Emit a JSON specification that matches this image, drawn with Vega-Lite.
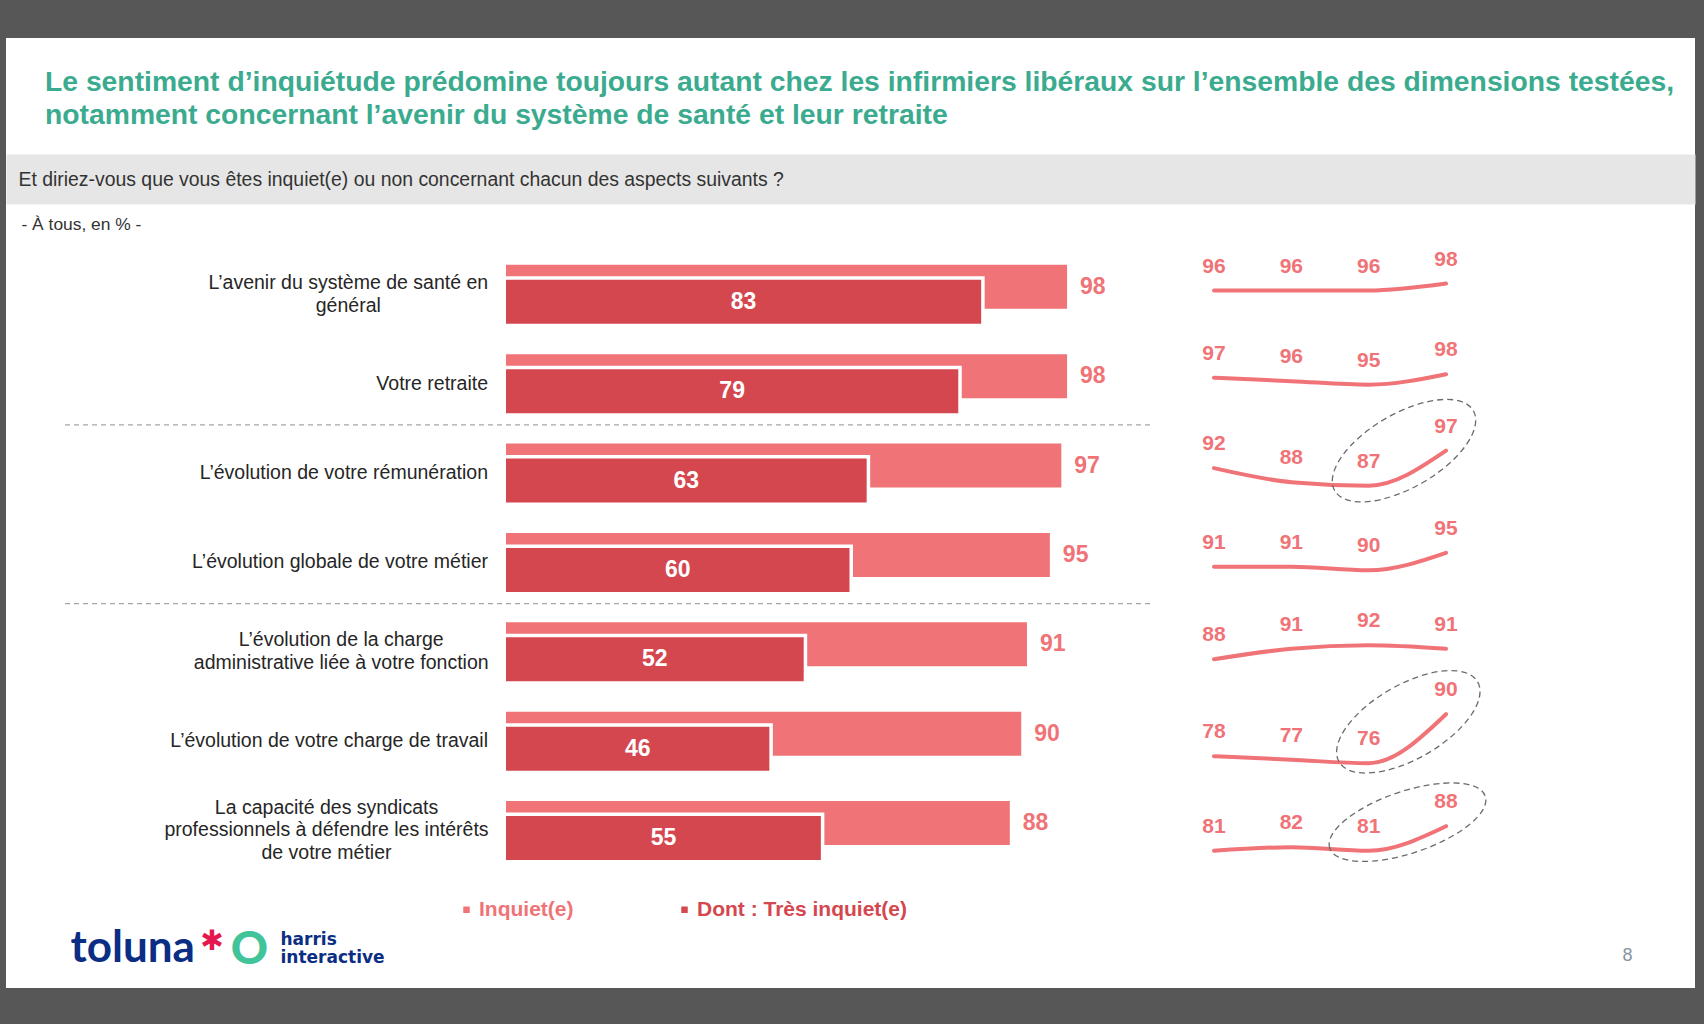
{
  "$schema": "https://vega.github.io/schema/vega-lite/v6.json",
  "width": 1704,
  "height": 1024,
  "autosize": {"type": "fit", "contains": "padding"},
  "padding": {"top": 38, "bottom": 36, "left": 6, "right": 9},
  "background": "#575757",
  "title": {
    "text": ["Le sentiment d’inquiétude prédomine toujours autant chez les infirmiers libéraux sur l’ensemble des dimensions testées,", "notamment concernant l’avenir du système de santé et leur retraite"],
    "anchor": "start",
    "frame": "group",
    "dx": 39,
    "offset": -92,
    "font": "Liberation Sans",
    "fontSize": 28.3,
    "fontWeight": "bold",
    "color": "#3bab90",
    "lineHeight": 33
  },
  "datasets": {
    "items": [
      {"item": "L’avenir du système de santé en général", "label": "L’avenir du système de santé en\ngénéral", "inquiet": 98, "tres_inquiet": 83},
      {"item": "Votre retraite", "label": "Votre retraite", "inquiet": 98, "tres_inquiet": 79},
      {"item": "L’évolution de votre rémunération", "label": "L’évolution de votre rémunération", "inquiet": 97, "tres_inquiet": 63},
      {"item": "L’évolution globale de votre métier", "label": "L’évolution globale de votre métier", "inquiet": 95, "tres_inquiet": 60},
      {"item": "L’évolution de la charge administrative liée à votre fonction", "label": "L’évolution de la charge\nadministrative liée à votre fonction", "inquiet": 91, "tres_inquiet": 52},
      {"item": "L’évolution de votre charge de travail", "label": "L’évolution de votre charge de travail", "inquiet": 90, "tres_inquiet": 46},
      {"item": "La capacité des syndicats professionnels à défendre les intérêts de votre métier", "label": "La capacité des syndicats\nprofessionnels à défendre les intérêts\nde votre métier", "inquiet": 88, "tres_inquiet": 55}
    ],
    "tendance": [
      {"item": "L’avenir du système de santé en général", "vague": 1, "valeur": 96},
      {"item": "L’avenir du système de santé en général", "vague": 2, "valeur": 96},
      {"item": "L’avenir du système de santé en général", "vague": 3, "valeur": 96},
      {"item": "L’avenir du système de santé en général", "vague": 4, "valeur": 98},
      {"item": "Votre retraite", "vague": 1, "valeur": 97},
      {"item": "Votre retraite", "vague": 2, "valeur": 96},
      {"item": "Votre retraite", "vague": 3, "valeur": 95},
      {"item": "Votre retraite", "vague": 4, "valeur": 98},
      {"item": "L’évolution de votre rémunération", "vague": 1, "valeur": 92},
      {"item": "L’évolution de votre rémunération", "vague": 2, "valeur": 88},
      {"item": "L’évolution de votre rémunération", "vague": 3, "valeur": 87},
      {"item": "L’évolution de votre rémunération", "vague": 4, "valeur": 97},
      {"item": "L’évolution globale de votre métier", "vague": 1, "valeur": 91},
      {"item": "L’évolution globale de votre métier", "vague": 2, "valeur": 91},
      {"item": "L’évolution globale de votre métier", "vague": 3, "valeur": 90},
      {"item": "L’évolution globale de votre métier", "vague": 4, "valeur": 95},
      {"item": "L’évolution de la charge administrative liée à votre fonction", "vague": 1, "valeur": 88},
      {"item": "L’évolution de la charge administrative liée à votre fonction", "vague": 2, "valeur": 91},
      {"item": "L’évolution de la charge administrative liée à votre fonction", "vague": 3, "valeur": 92},
      {"item": "L’évolution de la charge administrative liée à votre fonction", "vague": 4, "valeur": 91},
      {"item": "L’évolution de votre charge de travail", "vague": 1, "valeur": 78},
      {"item": "L’évolution de votre charge de travail", "vague": 2, "valeur": 77},
      {"item": "L’évolution de votre charge de travail", "vague": 3, "valeur": 76},
      {"item": "L’évolution de votre charge de travail", "vague": 4, "valeur": 90},
      {"item": "La capacité des syndicats professionnels à défendre les intérêts de votre métier", "vague": 1, "valeur": 81},
      {"item": "La capacité des syndicats professionnels à défendre les intérêts de votre métier", "vague": 2, "valeur": 82},
      {"item": "La capacité des syndicats professionnels à défendre les intérêts de votre métier", "vague": 3, "valeur": 81},
      {"item": "La capacité des syndicats professionnels à défendre les intérêts de votre métier", "vague": 4, "valeur": 88}
    ],
    "separateurs": [
      {"apres": "Votre retraite"},
      {"apres": "L’évolution globale de votre métier"}
    ]
  },
  "layer": [
    {
      "data": {"name": "items"},
      "mark": {"type": "bar", "height": 44, "yOffset": -7.5},
      "encoding": {
        "x": {"field": "inquiet", "type": "quantitative",
          "scale": {"domain": [-87.3362, 207.6856], "range": [0, 1689], "nice": false, "zero": false},
          "axis": {"orient": "top", "offset": -141, "domain": true, "domainColor": "#e6e6e6", "domainWidth": 50, "domainCap": "butt", "ticks": false, "labels": false, "grid": false,
            "title": "Et diriez-vous que vous êtes inquiet(e) ou non concernant chacun des aspects suivants ?",
            "titleX": 12, "titleY": 0, "titleAlign": "left", "titleBaseline": "middle", "titleAngle": 0, "titleFont": "Liberation Sans", "titleFontSize": 19.4, "titleFontWeight": "normal", "titleColor": "#333333", "titlePadding": 0}},
        "y": {"field": "item", "type": "nominal", "sort": null,
          "scale": {"type": "band", "domain": ["L’avenir du système de santé en général", "Votre retraite", "L’évolution de votre rémunération", "L’évolution globale de votre métier", "L’évolution de la charge administrative liée à votre fonction", "L’évolution de votre charge de travail", "La capacité des syndicats professionnels à défendre les intérêts de votre métier"], "range": [211.67, 837.18], "paddingInner": 0, "paddingOuter": 0},
          "axis": null},
        "color": {"datum": "Inquiet(e)", "type": "nominal",
          "scale": {"domain": ["Inquiet(e)", "Dont : Très inquiet(e)"], "range": ["#f07377", "#d4474f"]},
          "legend": {"title": null, "orient": "none", "legendX": 450, "legendY": 861, "direction": "horizontal", "symbolType": "square", "symbolSize": 42, "symbolStrokeWidth": 0, "labelFont": "Liberation Sans", "labelFontSize": 21, "labelFontWeight": "bold", "labelOffset": 2, "labelLimit": 500, "columnPadding": 100, "padding": 0,
            "encode": {"labels": {"update": {"fill": {"scale": "color", "field": "value"}}}}}}
      }
    },
    {
      "data": {"name": "items"},
      "mark": {"type": "bar", "height": 44, "yOffset": 7.5, "color": "white", "stroke": "white", "strokeWidth": 7},
      "encoding": {
        "x": {"field": "tres_inquiet", "type": "quantitative",
          "scale": {"domain": [-87.3362, 207.6856], "range": [0, 1689], "nice": false, "zero": false},
          "axis": null},
        "y": {"field": "item", "type": "nominal", "sort": null,
          "scale": {"type": "band", "domain": ["L’avenir du système de santé en général", "Votre retraite", "L’évolution de votre rémunération", "L’évolution globale de votre métier", "L’évolution de la charge administrative liée à votre fonction", "L’évolution de votre charge de travail", "La capacité des syndicats professionnels à défendre les intérêts de votre métier"], "range": [211.67, 837.18], "paddingInner": 0, "paddingOuter": 0},
          "axis": null}
      }
    },
    {
      "data": {"name": "items"},
      "mark": {"type": "bar", "height": 44, "yOffset": 7.5},
      "encoding": {
        "x": {"field": "tres_inquiet", "type": "quantitative",
          "scale": {"domain": [-87.3362, 207.6856], "range": [0, 1689], "nice": false, "zero": false},
          "axis": {"orient": "bottom", "domain": false, "ticks": false, "labels": false, "grid": false, "title": "toluna", "titleX": 64, "titleY": -27, "titleAlign": "left", "titleBaseline": "alphabetic", "titleAngle": 0, "titleFont": "Lato", "titleFontSize": 44, "titleFontWeight": "bold", "titleColor": "#0b2d83", "titlePadding": 0}},
        "y": {"field": "item", "type": "nominal", "sort": null,
          "scale": {"type": "band", "domain": ["L’avenir du système de santé en général", "Votre retraite", "L’évolution de votre rémunération", "L’évolution globale de votre métier", "L’évolution de la charge administrative liée à votre fonction", "L’évolution de votre charge de travail", "La capacité des syndicats professionnels à défendre les intérêts de votre métier"], "range": [211.67, 837.18], "paddingInner": 0, "paddingOuter": 0},
          "axis": null},
        "color": {"datum": "Dont : Très inquiet(e)", "type": "nominal",
          "scale": {"domain": ["Inquiet(e)", "Dont : Très inquiet(e)"], "range": ["#f07377", "#d4474f"]},
          "legend": {"title": null, "orient": "none", "legendX": 450, "legendY": 861, "direction": "horizontal", "symbolType": "square", "symbolSize": 42, "symbolStrokeWidth": 0, "labelFont": "Liberation Sans", "labelFontSize": 21, "labelFontWeight": "bold", "labelOffset": 2, "labelLimit": 500, "columnPadding": 100, "padding": 0,
            "encode": {"labels": {"update": {"fill": {"scale": "color", "field": "value"}}}}}}
      }
    },
    {
      "data": {"name": "items"},
      "mark": {"type": "text", "yOffset": 7.5, "font": "Liberation Sans", "fontSize": 23, "fontWeight": "bold", "color": "white", "align": "center", "baseline": "middle"},
      "encoding": {
        "x": {"field": "tres_inquiet", "type": "quantitative",
          "scale": {"domain": [-174.6724, 415.3712], "range": [0, 1689], "nice": false, "zero": false},
          "axis": {"orient": "bottom", "domain": false, "ticks": false, "labels": false, "grid": false, "title": "✱", "titleX": 205.5, "titleY": -46.5, "titleAlign": "center", "titleBaseline": "middle", "titleAngle": 0, "titleFont": "DejaVu Sans", "titleFontSize": 28, "titleFontWeight": "normal", "titleColor": "#e5174f", "titlePadding": 0}},
        "y": {"field": "item", "type": "nominal", "sort": null,
          "scale": {"type": "band", "domain": ["L’avenir du système de santé en général", "Votre retraite", "L’évolution de votre rémunération", "L’évolution globale de votre métier", "L’évolution de la charge administrative liée à votre fonction", "L’évolution de votre charge de travail", "La capacité des syndicats professionnels à défendre les intérêts de votre métier"], "range": [211.67, 837.18], "paddingInner": 0, "paddingOuter": 0},
          "axis": null},
        "text": {"field": "tres_inquiet", "type": "quantitative"}
      }
    },
    {
      "data": {"name": "items"},
      "mark": {"type": "text", "yOffset": -7.5, "dx": 13, "font": "Liberation Sans", "fontSize": 23, "fontWeight": "bold", "color": "#f07377", "align": "left", "baseline": "middle"},
      "encoding": {
        "x": {"field": "inquiet", "type": "quantitative",
          "scale": {"domain": [-87.3362, 207.6856], "range": [0, 1689], "nice": false, "zero": false},
          "axis": {"orient": "bottom", "domain": false, "ticks": false, "labels": false, "grid": false, "title": "O", "titleX": 243, "titleY": -38.8, "titleAlign": "center", "titleBaseline": "middle", "titleAngle": 0, "titleFont": "Lato", "titleFontSize": 46, "titleFontWeight": 900, "titleColor": "#41c49a", "titlePadding": 0}},
        "y": {"field": "item", "type": "nominal", "sort": null,
          "scale": {"type": "band", "domain": ["L’avenir du système de santé en général", "Votre retraite", "L’évolution de votre rémunération", "L’évolution globale de votre métier", "L’évolution de la charge administrative liée à votre fonction", "L’évolution de votre charge de travail", "La capacité des syndicats professionnels à défendre les intérêts de votre métier"], "range": [211.67, 837.18], "paddingInner": 0, "paddingOuter": 0},
          "axis": null},
        "text": {"field": "inquiet", "type": "quantitative"}
      }
    },
    {
      "data": {"name": "items"},
      "transform": [{"filter": {"field": "item", "oneOf": ["Votre retraite", "L’évolution de votre rémunération", "L’évolution globale de votre métier", "L’évolution de votre charge de travail"]}}],
      "mark": {"type": "text", "dx": -18, "font": "Liberation Sans", "fontSize": 19.5, "color": "#262626", "align": "right", "baseline": "middle"},
      "encoding": {
        "x": {"datum": 0, "type": "quantitative",
          "scale": {"domain": [-87.3362, 207.6856], "range": [0, 1689], "nice": false, "zero": false},
          "axis": null},
        "y": {"field": "item", "type": "nominal", "sort": null,
          "scale": {"type": "band", "domain": ["L’avenir du système de santé en général", "Votre retraite", "L’évolution de votre rémunération", "L’évolution globale de votre métier", "L’évolution de la charge administrative liée à votre fonction", "L’évolution de votre charge de travail", "La capacité des syndicats professionnels à défendre les intérêts de votre métier"], "range": [211.67, 837.18], "paddingInner": 0, "paddingOuter": 0},
          "axis": null},
        "text": {"field": "label", "type": "nominal"}
      }
    },
    {
      "data": {"name": "items"},
      "transform": [{"filter": {"field": "item", "equal": "L’avenir du système de santé en général"}}],
      "mark": {"type": "text", "dx": -157.7, "dy": -11.4, "font": "Liberation Sans", "fontSize": 19.5, "color": "#262626", "align": "center", "baseline": "middle", "lineBreak": "\n", "lineHeight": 22.8},
      "encoding": {
        "x": {"datum": 0, "type": "quantitative",
          "scale": {"domain": [-87.3362, 207.6856], "range": [0, 1689], "nice": false, "zero": false},
          "axis": null},
        "y": {"field": "item", "type": "nominal", "sort": null,
          "scale": {"type": "band", "domain": ["L’avenir du système de santé en général", "Votre retraite", "L’évolution de votre rémunération", "L’évolution globale de votre métier", "L’évolution de la charge administrative liée à votre fonction", "L’évolution de votre charge de travail", "La capacité des syndicats professionnels à défendre les intérêts de votre métier"], "range": [211.67, 837.18], "paddingInner": 0, "paddingOuter": 0},
          "axis": null},
        "text": {"field": "label", "type": "nominal"}
      }
    },
    {
      "data": {"name": "items"},
      "transform": [{"filter": {"field": "item", "equal": "L’évolution de la charge administrative liée à votre fonction"}}],
      "mark": {"type": "text", "dx": -164.8, "dy": -11.4, "font": "Liberation Sans", "fontSize": 19.5, "color": "#262626", "align": "center", "baseline": "middle", "lineBreak": "\n", "lineHeight": 22.8},
      "encoding": {
        "x": {"datum": 0, "type": "quantitative",
          "scale": {"domain": [-87.3362, 207.6856], "range": [0, 1689], "nice": false, "zero": false},
          "axis": null},
        "y": {"field": "item", "type": "nominal", "sort": null,
          "scale": {"type": "band", "domain": ["L’avenir du système de santé en général", "Votre retraite", "L’évolution de votre rémunération", "L’évolution globale de votre métier", "L’évolution de la charge administrative liée à votre fonction", "L’évolution de votre charge de travail", "La capacité des syndicats professionnels à défendre les intérêts de votre métier"], "range": [211.67, 837.18], "paddingInner": 0, "paddingOuter": 0},
          "axis": null},
        "text": {"field": "label", "type": "nominal"}
      }
    },
    {
      "data": {"name": "items"},
      "transform": [{"filter": {"field": "item", "equal": "La capacité des syndicats professionnels à défendre les intérêts de votre métier"}}],
      "mark": {"type": "text", "dx": -179.5, "dy": -22.8, "font": "Liberation Sans", "fontSize": 19.5, "color": "#262626", "align": "center", "baseline": "middle", "lineBreak": "\n", "lineHeight": 22.8},
      "encoding": {
        "x": {"datum": 0, "type": "quantitative",
          "scale": {"domain": [-87.3362, 207.6856], "range": [0, 1689], "nice": false, "zero": false},
          "axis": null},
        "y": {"field": "item", "type": "nominal", "sort": null,
          "scale": {"type": "band", "domain": ["L’avenir du système de santé en général", "Votre retraite", "L’évolution de votre rémunération", "L’évolution globale de votre métier", "L’évolution de la charge administrative liée à votre fonction", "L’évolution de votre charge de travail", "La capacité des syndicats professionnels à défendre les intérêts de votre métier"], "range": [211.67, 837.18], "paddingInner": 0, "paddingOuter": 0},
          "axis": null},
        "text": {"field": "label", "type": "nominal"}
      }
    },
    {
      "data": {"name": "separateurs"},
      "mark": {"type": "rule", "yOffset": -3.5, "color": "#a6a6a6", "strokeWidth": 1.3, "strokeDash": [5, 4]},
      "encoding": {
        "x": {"datum": -77.03, "type": "quantitative",
          "scale": {"domain": [-87.3362, 207.6856], "range": [0, 1689], "nice": false, "zero": false},
          "axis": {"orient": "top", "domain": false, "ticks": false, "labels": false, "grid": false, "title": "- À tous, en % -", "titleX": 15, "titleY": 186, "titleAlign": "left", "titleBaseline": "middle", "titleAngle": 0, "titleFont": "Liberation Sans", "titleFontSize": 17.4, "titleFontWeight": "normal", "titleColor": "#333333", "titlePadding": 0}},
        "x2": {"datum": 112.84},
        "y": {"field": "apres", "type": "nominal", "sort": null, "bandPosition": 1,
          "scale": {"type": "band", "domain": ["L’avenir du système de santé en général", "Votre retraite", "L’évolution de votre rémunération", "L’évolution globale de votre métier", "L’évolution de la charge administrative liée à votre fonction", "L’évolution de votre charge de travail", "La capacité des syndicats professionnels à défendre les intérêts de votre métier"], "range": [211.67, 837.18], "paddingInner": 0, "paddingOuter": 0},
          "axis": null}
      }
    },
    {
      "data": {"name": "tendance"},
      "transform": [{"filter": {"field": "item", "equal": "L’avenir du système de santé en général"}}],
      "encoding": {
        "x": {"field": "vague", "type": "quantitative", "scale": {"domain": [1, 4], "range": [1208, 1440], "nice": false, "zero": false},
          "axis": {"orient": "bottom", "domain": false, "ticks": false, "labels": false, "grid": false, "title": ["harris", "interactive"], "titleX": 274, "titleY": -56.4, "titleAlign": "left", "titleBaseline": "top", "titleAngle": 0, "titleFont": "DejaVu Sans", "titleFontSize": 17, "titleFontWeight": "bold", "titleColor": "#0b2d83", "titleLineHeight": 18, "titlePadding": 0}},
        "y": {"field": "valeur", "type": "quantitative", "scale": {"domain": [-103.28, 168.15], "range": [950, 0], "nice": false, "zero": false}, "axis": null}
      },
      "layer": [
        {"mark": {"type": "line", "interpolate": "monotone", "strokeWidth": 4, "color": "#f07377", "strokeCap": "round"}},
        {"mark": {"type": "text", "dy": -24, "font": "Liberation Sans", "fontSize": 21, "fontWeight": "bold", "color": "#f07377", "align": "center", "baseline": "middle"}, "encoding": {"text": {"field": "valeur", "type": "quantitative"}}}
      ]
    },
    {
      "data": {"name": "tendance"},
      "transform": [{"filter": {"field": "item", "equal": "Votre retraite"}}],
      "encoding": {
        "x": {"field": "vague", "type": "quantitative", "scale": {"domain": [1, 4], "range": [1208, 1440], "nice": false, "zero": false},
          "axis": {"orient": "bottom", "domain": false, "ticks": false, "labels": false, "grid": false, "title": "8", "titleX": 1621, "titleY": -33, "titleAlign": "center", "titleBaseline": "middle", "titleAngle": 0, "titleFont": "Liberation Sans", "titleFontSize": 18, "titleFontWeight": "normal", "titleColor": "#8593a3", "titlePadding": 0}},
        "y": {"field": "valeur", "type": "quantitative", "scale": {"domain": [-77.38, 194.05], "range": [950, 0], "nice": false, "zero": false}, "axis": null}
      },
      "layer": [
        {"mark": {"type": "line", "interpolate": "monotone", "strokeWidth": 4, "color": "#f07377", "strokeCap": "round"}},
        {"mark": {"type": "text", "dy": -24, "font": "Liberation Sans", "fontSize": 21, "fontWeight": "bold", "color": "#f07377", "align": "center", "baseline": "middle"}, "encoding": {"text": {"field": "valeur", "type": "quantitative"}}}
      ]
    },
    {
      "data": {"name": "tendance"},
      "transform": [{"filter": {"field": "item", "equal": "L’évolution de votre rémunération"}}],
      "encoding": {
        "x": {"field": "vague", "type": "quantitative", "scale": {"domain": [1, 4], "range": [1208, 1440], "nice": false, "zero": false}, "axis": null},
        "y": {"field": "valeur", "type": "quantitative", "scale": {"domain": [-56.53, 214.9], "range": [950, 0], "nice": false, "zero": false}, "axis": null}
      },
      "layer": [
        {"mark": {"type": "line", "interpolate": "monotone", "strokeWidth": 4, "color": "#f07377", "strokeCap": "round"}},
        {"mark": {"type": "text", "dy": -24, "font": "Liberation Sans", "fontSize": 21, "fontWeight": "bold", "color": "#f07377", "align": "center", "baseline": "middle"}, "encoding": {"text": {"field": "valeur", "type": "quantitative"}}},
        {"transform": [{"filter": {"field": "vague", "equal": 4}}],
         "mark": {"type": "point", "shape": "M-1,0A1,0.4625,0,1,1,1,0A1,0.4625,0,1,1,-1,0Z", "size": 25600, "angle": 330, "filled": false, "stroke": "#6b6b6b", "strokeWidth": 1.3, "strokeDash": [6, 4], "opacity": 1, "xOffset": -42, "yOffset": 0}}
      ]
    },
    {
      "data": {"name": "tendance"},
      "transform": [{"filter": {"field": "item", "equal": "L’évolution globale de votre métier"}}],
      "encoding": {
        "x": {"field": "vague", "type": "quantitative", "scale": {"domain": [1, 4], "range": [1208, 1440], "nice": false, "zero": false}, "axis": null},
        "y": {"field": "valeur", "type": "quantitative", "scale": {"domain": [-29.33, 242.1], "range": [950, 0], "nice": false, "zero": false}, "axis": null}
      },
      "layer": [
        {"mark": {"type": "line", "interpolate": "monotone", "strokeWidth": 4, "color": "#f07377", "strokeCap": "round"}},
        {"mark": {"type": "text", "dy": -24, "font": "Liberation Sans", "fontSize": 21, "fontWeight": "bold", "color": "#f07377", "align": "center", "baseline": "middle"}, "encoding": {"text": {"field": "valeur", "type": "quantitative"}}}
      ]
    },
    {
      "data": {"name": "tendance"},
      "transform": [{"filter": {"field": "item", "equal": "L’évolution de la charge administrative liée à votre fonction"}}],
      "encoding": {
        "x": {"field": "vague", "type": "quantitative", "scale": {"domain": [1, 4], "range": [1208, 1440], "nice": false, "zero": false}, "axis": null},
        "y": {"field": "valeur", "type": "quantitative", "scale": {"domain": [-5.93, 265.5], "range": [950, 0], "nice": false, "zero": false}, "axis": null}
      },
      "layer": [
        {"mark": {"type": "line", "interpolate": "monotone", "strokeWidth": 4, "color": "#f07377", "strokeCap": "round"}},
        {"mark": {"type": "text", "dy": -24, "font": "Liberation Sans", "fontSize": 21, "fontWeight": "bold", "color": "#f07377", "align": "center", "baseline": "middle"}, "encoding": {"text": {"field": "valeur", "type": "quantitative"}}}
      ]
    },
    {
      "data": {"name": "tendance"},
      "transform": [{"filter": {"field": "item", "equal": "L’évolution de votre charge de travail"}}],
      "encoding": {
        "x": {"field": "vague", "type": "quantitative", "scale": {"domain": [1, 4], "range": [1208, 1440], "nice": false, "zero": false}, "axis": null},
        "y": {"field": "valeur", "type": "quantitative", "scale": {"domain": [11.77, 283.2], "range": [950, 0], "nice": false, "zero": false}, "axis": null}
      },
      "layer": [
        {"mark": {"type": "line", "interpolate": "monotone", "strokeWidth": 4, "color": "#f07377", "strokeCap": "round"}},
        {"mark": {"type": "text", "dy": -24, "font": "Liberation Sans", "fontSize": 21, "fontWeight": "bold", "color": "#f07377", "align": "center", "baseline": "middle"}, "encoding": {"text": {"field": "valeur", "type": "quantitative"}}},
        {"transform": [{"filter": {"field": "vague", "equal": 4}}],
         "mark": {"type": "point", "shape": "M-1,0A1,0.4625,0,1,1,1,0A1,0.4625,0,1,1,-1,0Z", "size": 25600, "angle": 330, "filled": false, "stroke": "#6b6b6b", "strokeWidth": 1.3, "strokeDash": [6, 4], "opacity": 1, "xOffset": -37.7, "yOffset": 7.6}}
      ]
    },
    {
      "data": {"name": "tendance"},
      "transform": [{"filter": {"field": "item", "equal": "La capacité des syndicats professionnels à défendre les intérêts de votre métier"}}],
      "encoding": {
        "x": {"field": "vague", "type": "quantitative", "scale": {"domain": [1, 4], "range": [1208, 1440], "nice": false, "zero": false}, "axis": null},
        "y": {"field": "valeur", "type": "quantitative", "scale": {"domain": [41.77, 313.2], "range": [950, 0], "nice": false, "zero": false}, "axis": null}
      },
      "layer": [
        {"mark": {"type": "line", "interpolate": "monotone", "strokeWidth": 4, "color": "#f07377", "strokeCap": "round"}},
        {"mark": {"type": "text", "dy": -24, "font": "Liberation Sans", "fontSize": 21, "fontWeight": "bold", "color": "#f07377", "align": "center", "baseline": "middle"}, "encoding": {"text": {"field": "valeur", "type": "quantitative"}}},
        {"transform": [{"filter": {"field": "vague", "equal": 4}}],
         "mark": {"type": "point", "shape": "M-1,0A1,0.378,0,1,1,1,0A1,0.378,0,1,1,-1,0Z", "size": 26896, "angle": 341.5, "filled": false, "stroke": "#6b6b6b", "strokeWidth": 1.3, "strokeDash": [6, 4], "opacity": 1, "xOffset": -38.5, "yOffset": -4}}
      ]
    }
  ],
  "resolve": {
    "scale": {"x": "independent", "y": "independent"},
    "axis": {"x": "independent", "y": "independent"}
  },
  "config": {
    "view": {"fill": "white", "stroke": null},
    "font": "Liberation Sans",
    "axis": {"minExtent": 0, "grid": false},
    "legend": {"symbolOpacity": 1}
  }
}
